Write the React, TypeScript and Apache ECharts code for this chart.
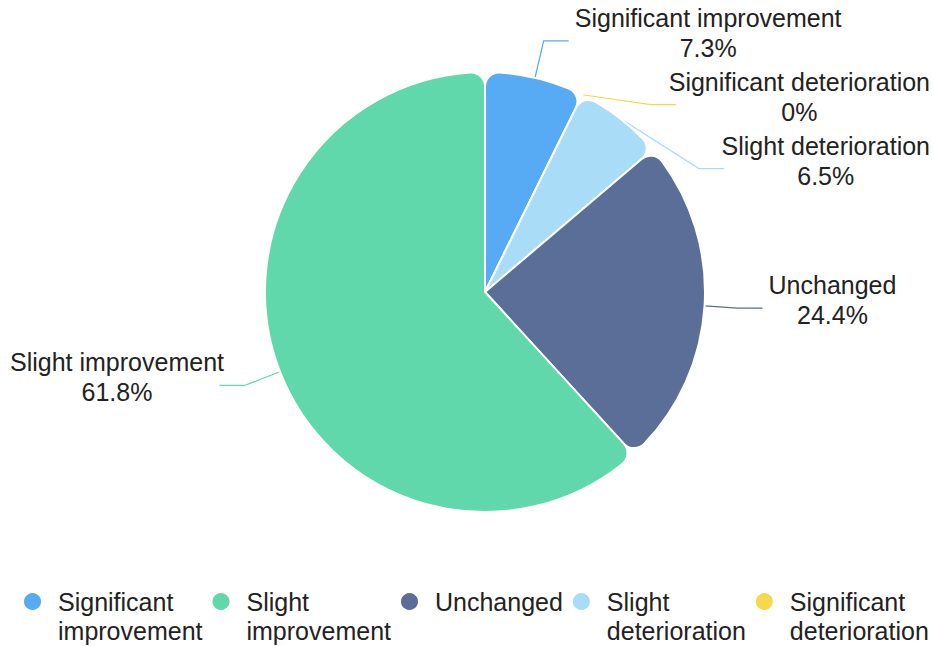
import React, { useEffect, useRef } from "react";
import * as echarts from "echarts";

const categories = [
  "Significant improvement",
  "Significant deterioration",
  "Slight deterioration",
  "Unchanged",
  "Slight improvement",
];
const values = [7.3, 0, 6.5, 24.4, 61.8];
const colors = ["#57aaf4", "#f6d84c", "#a8dcf7", "#5b6e97", "#60d8ab"];
const legendOrder = [
  "Significant improvement",
  "Slight improvement",
  "Unchanged",
  "Slight deterioration",
  "Significant deterioration",
];
const legendLabels: Record<string, string> = {
  "Significant improvement": "\nSignificant\nimprovement",
  "Slight improvement": "\nSlight\nimprovement",
  "Unchanged": "\nUnchanged\n ",
  "Slight deterioration": "\nSlight\ndeterioration",
  "Significant deterioration": "\nSignificant\ndeterioration",
};

const FONT = "Liberation Sans, Arial, sans-serif";
const LABEL_SIZE = 25;

function measure(text: string, size: number): number {
  const c = document.createElement("canvas").getContext("2d");
  if (!c) return text.length * size * 0.55;
  c.font = `${size}px "Liberation Sans", Arial, sans-serif`;
  return c.measureText(text).width;
}

export default function App() {
  const ref = useRef<HTMLDivElement>(null);
  useEffect(() => {
    if (!ref.current) return;
    const chart = echarts.init(ref.current, undefined, { renderer: "svg" });
    chart.setOption({
      animation: false,
      backgroundColor: "#ffffff",
      textStyle: { fontFamily: FONT },
      legend: {
        data: legendOrder,
        left: 22,
        top: 558,
        width: 930,
        padding: 0,
        icon: "circle",
        itemWidth: 19,
        itemHeight: 19,
        itemGap: 8,
        formatter: (n: string) => legendLabels[n] || n,
        textStyle: {
          fontSize: 25,
          lineHeight: 29,
          color: "#222",
          fontFamily: FONT,
          padding: [0, 0, 0, 11],
        },
      },
      series: [
        {
          type: "pie",
          center: [485, 292],
          radius: 220,
          startAngle: 90,
          clockwise: true,
          itemStyle: { borderColor: "#fff", borderWidth: 2, borderRadius: 14 },
          label: {
            show: true,
            color: "#222",
            fontSize: LABEL_SIZE,
            padding: [2, 0, 2, 0],
            formatter: (p: any) => `{t|${p.name}}\n{t|${p.value}%}`,
            rich: {
              t: {
                align: "center",
                fontSize: LABEL_SIZE,
                lineHeight: 30,
                color: "#222",
                fontFamily: FONT,
              },
            },
          },
          labelLine: { show: true, length: 38, length2: 25, lineStyle: { width: 1.2 } },
          labelLayout: (params: any) => {
            const r = params.labelRect;
            let dx = 0;
            const over = r.x + r.width - 930;
            if (over > 0) dx = -over;
            if (r.x < 10) dx = 10 - r.x;
            const c = r.y + r.height / 2;
            let extra = 0;
            if (r.x > 485 && c < 230) extra = Math.max(0, (c - 40) * 0.12);
            const pts = (params.labelLinePoints || []).map((p: number[], k: number) =>
              k === 0 ? [p[0], p[1]] : [p[0], p[1] + extra]
            );
            return { dx, dy: -8 + extra, labelLinePoints: pts };
          },
          data: categories.map((c, i) => ({
            name: c,
            value: values[i],
            itemStyle: { color: colors[i] },
            label: {
              width: Math.ceil(Math.max(measure(c, LABEL_SIZE), measure(values[i] + "%", LABEL_SIZE))) + 2,
            },
          })),
        },
      ],
    });
    return () => chart.dispose();
  }, []);
  return (
    <div
      ref={ref}
      style={{ position: "fixed", left: 0, top: 0, width: 933, height: 646 }}
    />
  );
}
